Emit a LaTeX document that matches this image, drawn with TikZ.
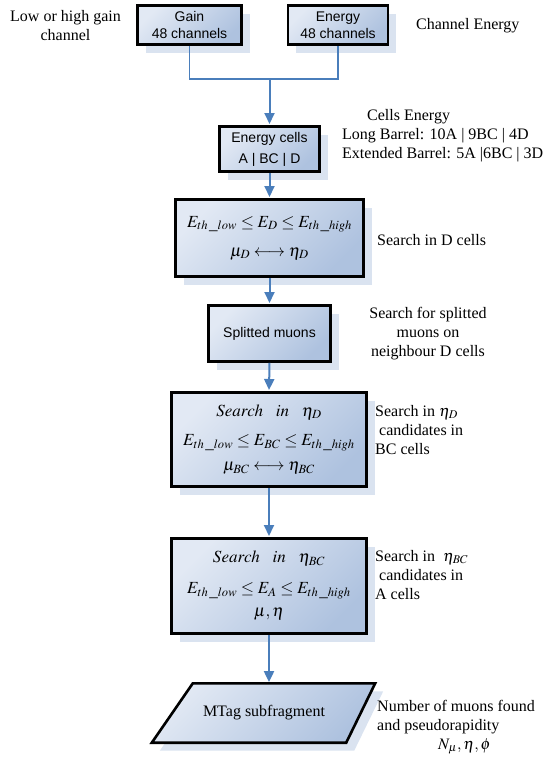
\documentclass[tikz,border=0pt]{standalone}
\usepackage{mathptmx}
\usepackage{fontspec}
\setmainfont{Liberation Serif}
\newfontfamily\boxsans{Liberation Sans}
\usetikzlibrary{arrows.meta,shadows,calc,backgrounds}

\definecolor{boxlight}{HTML}{E2E9F4}
\definecolor{boxdark}{HTML}{AEC2DF}
\definecolor{shadowblue}{HTML}{DAE3F0}
\definecolor{flowblue}{HTML}{4A7EBB}

\tikzset{
  boxlook/.style={draw=black, line width=2.6pt, top color=boxlight,
    bottom color=boxdark, shading angle=45,
    drop shadow={shadow xshift=8pt, shadow yshift=-8pt, fill=shadowblue, opacity=1}},
  stepbox/.style={boxlook, inner sep=0pt},
  sanslabel/.style={font=\boxsans\fontsize{14}{17}\selectfont, align=center},
  mathlabel/.style={font=\fontsize{17}{29}\selectfont, align=center},
  note/.style={font=\fontsize{16}{19}\selectfont, inner sep=0pt},
  flow/.style={draw=flowblue, line width=2pt, shorten >=1.2pt,
    -{Triangle[length=11pt,width=10pt]}},
  joint/.style={draw=flowblue, line width=1.6pt},
}
\newcommand\srchin{Search\hspace{0.75em}in\hspace{0.75em}}

\begin{document}
\begin{tikzpicture}[x=1pt, y=-1pt]
\useasboundingbox (0,0) rectangle (555,761);

% input channels
\node[stepbox, sanslabel, minimum width=104pt, minimum height=39pt] (gain) at (189.5,25) {Gain\\48 channels};
\node[stepbox, sanslabel, minimum width=100pt, minimum height=39pt] (energy) at (338,25) {Energy\\48 channels};

% processing chain
\node[stepbox, sanslabel, font=\boxsans\fontsize{14}{21}\selectfont, minimum width=100pt, minimum height=45pt] (ecells) at (269.5,149) {Energy cells\\A | BC | D};
\node[stepbox, mathlabel, minimum width=188pt, minimum height=77pt] (dsearch) at (269.5,238)
  {$E_{th\,\_low}\le E_D\le E_{th\,\_high}$\\$\mu_D\longleftrightarrow\eta_D$};
\node[stepbox, sanslabel, minimum width=122pt, minimum height=56pt] (split) at (269.5,333.5) {Splitted muons};
\node[stepbox, mathlabel, minimum width=195pt, minimum height=94pt] (bcsearch) at (269,439.5)
  {$\srchin\eta_D$\\$E_{th\,\_low}\le E_{BC}\le E_{th\,\_high}$\\[-4pt]$\mu_{BC}\longleftrightarrow\eta_{BC}$};
\node[stepbox, mathlabel, minimum width=195pt, minimum height=95pt] (asearch) at (269,586)
  {$\srchin\eta_{BC}$\\[2pt]$E_{th\,\_low}\le E_A\le E_{th\,\_high}$\\[-6pt]$\mu,\eta$};

% output fragment: a slanted box around its label
\node[inner sep=0pt, minimum width=188pt, minimum height=59pt, font=\fontsize{16}{19}\selectfont] (mtag) at (264,713) {MTag subfragment};
\begin{scope}[on background layer]
  \path[boxlook] ($(mtag.north west)+(23,0)$) -- ($(mtag.north east)+(17,0)$)
    -- ($(mtag.south east)+(-12,0)$) -- ($(mtag.south west)+(-18,0)$) -- cycle;
\end{scope}

% connectors
\coordinate (merge) at (269.5,79);
\draw[joint] (gain.south) |- (merge) -| (energy.south);
\draw[flow] (merge) -- (ecells.north);
\draw[flow] (ecells.south) -- (dsearch.north);
\draw[flow] (dsearch.south) -- (split.north);
\draw[flow] (split.south) -- (bcsearch.north);
\draw[flow] (bcsearch.south) -- (asearch.north);
\draw[flow] (asearch.south) -- (asearch.south |- mtag.north);

% annotations
\node[note, align=center] (gainnote) at (65.5,26) {Low or high gain\\channel};
\node[note, anchor=west] (channote) at (416,26) {Channel Energy};
\node[note, align=left, anchor=west] (cellnote) at (342,136)
  {\hspace*{25pt}Cells Energy\\Long Barrel: 10A | 9BC | 4D\\Extended Barrel: 5A |6BC | 3D};
\node[note, anchor=west] (dnote) at (377,240) {Search in D cells};
\node[note, align=center] (splitnote) at (428,334) {Search for splitted\\muons on\\neighbour D cells};
\node[note, align=left, anchor=west] (bcnote) at (375,430)
  {Search in $\eta_D$\\\hspace*{4pt}candidates in\\BC cells};
\node[note, align=left, anchor=west] (anote) at (375,575)
  {Search in \ $\eta_{BC}$\\\hspace*{4pt}candidates in\\A cells};
\node[note, align=left, anchor=west] (mtagnote) at (377,727)
  {Number of muons found\\and pseudorapidity\\\hspace*{61pt}$N_\mu,\eta,\phi$};
\end{tikzpicture}
\end{document}
